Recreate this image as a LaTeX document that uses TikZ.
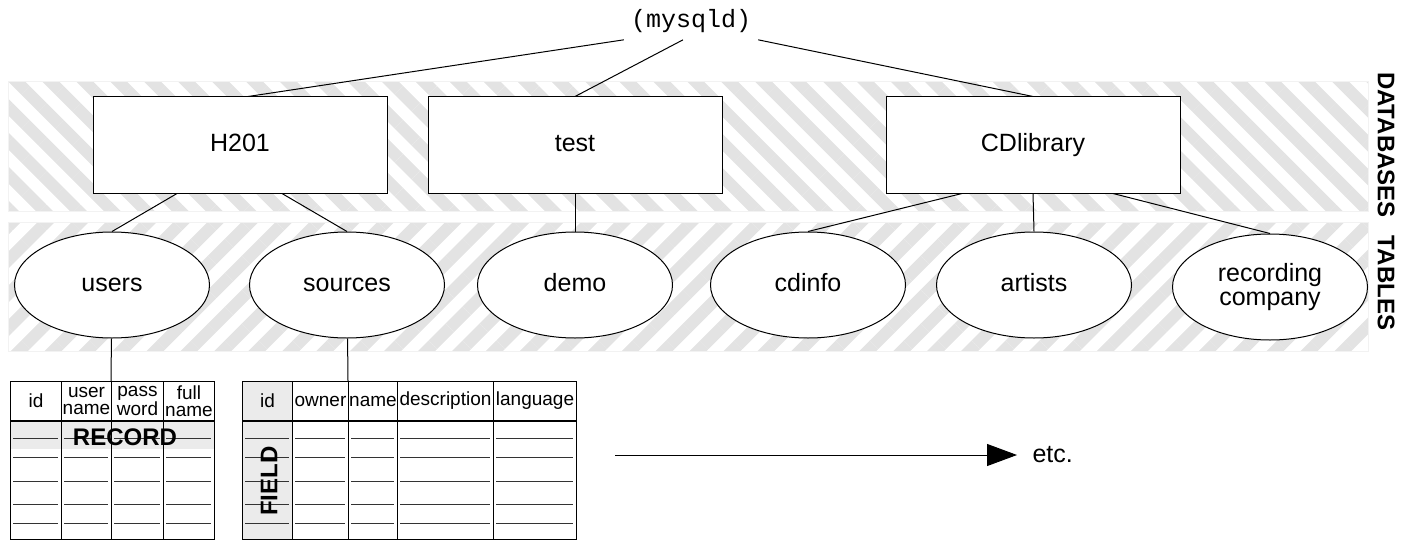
\documentclass[tikz,border=0pt]{standalone}
\usepackage{fontspec}
\setmainfont{Liberation Sans}
\setmonofont{Liberation Mono}
\usetikzlibrary{positioning, arrows.meta, calc, shapes.geometric, patterns.meta}
\tikzset{dbbox/.style={
    rectangle,
    draw,
    fill=white,
    minimum width=147pt,
    minimum height=48pt,
    text height=9pt,
    text depth=2.5pt,
    font=\fontsize{12.5}{14}\selectfont
}}
\tikzset{tblnode/.style={
    ellipse,
    draw,
    fill=white,
    inner sep=0pt,
    minimum width=97.5pt,
    minimum height=53pt,
    align=center,
    font=\fontsize{12.5}{12}\selectfont
}}
\tikzset{oneline/.style={text height=9pt, text depth=2.5pt}}
\tikzset{band/.style={
    draw=black!5,
    pattern color=black!11
}}
\tikzset{cell/.style={
    rectangle,
    draw,
    inner sep=0pt,
    minimum height=19.5pt,
    align=center,
    font=\fontsize{9.5}{8.5}\selectfont
}}
\tikzset{rowline/.style={black!80}}
\tikzset{boldlabel/.style={font=\bfseries\fontsize{12}{14}\selectfont}}
\tikzset{sidelabel/.style={rotate=-90, font=\bfseries\fontsize{12}{14}\selectfont}}

\begin{document}
\begin{tikzpicture}[
    x=0.5pt, y=-0.5pt, line width=0.5pt,
    >={Triangle[length=15pt, width=11pt]},
]
    \useasboundingbox (0,0) rectangle (1411,540);
    % hatched bands
    \filldraw [band, pattern={Lines[angle=-45, distance=12pt, line width=6pt]}] (8,82) rectangle (1368,211);
    \filldraw [band, pattern={Lines[angle=45, distance=12pt, line width=6pt]}] (8,222) rectangle (1368,351);

    % server and databases
    \node (mysqld) [font=\ttfamily\fontsize{12.5}{14}\selectfont] at (691,21) {(mysqld)};
    \node (h201)  [dbbox] at (240,145)  {H201};
    \node (test)  [dbbox] at (575,145)  {test};
    \node (cdlib) [dbbox] at (1033,145) {CDlibrary};

    % tables
    \node (users)   [tblnode, oneline] at (112,285)  {users};
    \node (sources) [tblnode, oneline] at (347,285)  {sources};
    \node (demo)    [tblnode, oneline] at (575,285)  {demo};
    \node (cdinfo)  [tblnode, oneline] at (808,285)  {cdinfo};
    \node (artists) [tblnode, oneline] at (1034,285) {artists};
    \node (reccomp) [tblnode] at (1270,287) {recording\\company};

    \draw (mysqld.south west) -- ($ (h201.north) + (8,0) $);
    \draw ($ (mysqld.south) + (-8,0) $) -- (test.north);
    \draw (mysqld.south east) -- (cdlib.north);
    \draw ($ (h201.south) + (-63,0) $) -- (users.north);
    \draw ($ (h201.south) + (42,0) $) -- (sources.north);
    \draw (test) -- (demo);
    \draw ($ (cdlib.south) + (-71,0) $) -- (cdinfo.north);
    \draw (cdlib.south) -- (artists.north);
    \draw ($ (cdlib.south) + (80,0) $) -- (reccomp.north);

    \node (dblabel)  [sidelabel] at (1386,145) {DATABASES};
    \node (tbllabel) [sidelabel] at (1386,283) {TABLES};

    % users table
    \fill [black!8] (10,420) rectangle (214,449);
    \foreach \x/\w/\lbl [count=\i] in {10/51/id, 61/50/{user\\name}, 111/52/{pass\\word}, 163/51/{full\\name}}
        \node (ua\i) [cell, minimum width=\w*0.5pt, anchor=north west] at (\x,381) {\lbl};
    \draw (ua1.south west) rectangle (214,539);
    \foreach \x in {61,111,163}
        \draw (\x,420) -- (\x,539);
    \foreach \y in {438,457,481,504,523}
        \foreach \x/\w in {10/51, 61/50, 111/52, 163/51}
            \draw [rowline] (\x+3,\y) -- (\x+\w-3,\y);
    \node (record) [boldlabel] at (125,437) {RECORD};
    \draw (users) -- (ua3.north west);

    % sources table
    \fill [black!8] (242,381) rectangle (292,539);
    \foreach \x/\w/\lbl [count=\i] in {242/50/id, 292/56/owner, 348/49/name, 397/96/description, 493/83/language}
        \node (fa\i) [cell, minimum width=\w*0.5pt, anchor=north west] at (\x,381) {\lbl};
    \draw (fa1.south west) rectangle (576,539);
    \foreach \x in {292,348,397,493}
        \draw (\x,420) -- (\x,539);
    \foreach \y in {438,457,481,504,523}
        \foreach \x/\w in {242/50, 292/56, 348/49, 397/96, 493/83}
            \draw [rowline] (\x+3,\y) -- (\x+\w-3,\y);
    \node (field) [boldlabel, rotate=90] at (269,481) {FIELD};
    \draw (sources) -- (fa3.north west);

    % more tables
    \coordinate (arrstart) at (615,455);
    \node (etc) [anchor=west, inner xsep=7.5pt, font=\fontsize{12.5}{14}\selectfont] at (1017,455) {etc.};
    \draw [->] (arrstart) -- (etc);
\end{tikzpicture}
\end{document}
